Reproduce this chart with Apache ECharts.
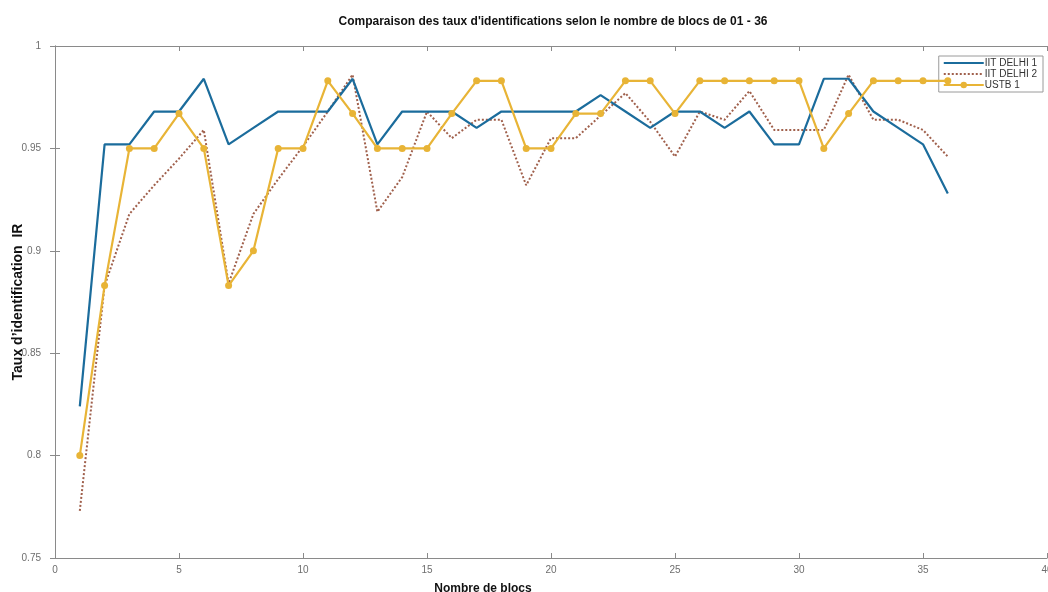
<!DOCTYPE html>
<html>
<head>
<meta charset="utf-8">
<script src="https://cdn.jsdelivr.net/npm/echarts@6/dist/echarts.min.js"></script>
<style>
  html, body { margin: 0; padding: 0; background: #fff; }
  #chart { width: 1048px; height: 592px; }
</style>
</head>
<body>
<div id="chart"></div>
<script>
// Identification rate per number of blocks (1..36)
const blocs = [1,2,3,4,5,6,7,8,9,10,11,12,13,14,15,16,17,18,19,20,21,22,23,24,25,26,27,28,29,30,31,32,33,34,35,36];

const iitDelhi1 = [0.824,0.952,0.952,0.968,0.968,0.984,0.952,0.960,0.968,0.968,0.968,0.984,
                   0.952,0.968,0.968,0.968,0.960,0.968,0.968,0.968,0.968,0.976,0.968,0.960,
                   0.968,0.968,0.960,0.968,0.952,0.952,0.984,0.984,0.968,0.960,0.952,0.928];

const iitDelhi2 = [0.773,0.883,0.918,0.932,0.945,0.959,0.884,0.918,0.935,0.951,0.968,0.986,
                   0.919,0.936,0.968,0.955,0.964,0.964,0.932,0.955,0.955,0.966,0.977,0.963,
                   0.946,0.968,0.964,0.978,0.959,0.959,0.959,0.986,0.964,0.964,0.959,0.946];

const ustb1 = [0.800,0.883,0.950,0.950,0.967,0.950,0.883,0.900,0.950,0.950,0.983,0.967,
               0.950,0.950,0.950,0.967,0.983,0.983,0.950,0.950,0.967,0.967,0.983,0.983,
               0.967,0.983,0.983,0.983,0.983,0.983,0.950,0.967,0.983,0.983,0.983,0.983];

const seriesNames = ['IIT DELHI 1', 'IIT DELHI 2', 'USTB 1'];

const pairs = (ys) => blocs.map((x, i) => [x, ys[i]]);

const axisGray = '#8a8a8a';
const labelGray = '#6e6e6e';

// line-only legend entries (no marker) for the two plain curves
const noMarker = { color: 'rgba(0,0,0,0)', borderWidth: 0 };

const chart = echarts.init(document.getElementById('chart'), null, { renderer: 'canvas' });

chart.setOption({
  animation: false,
  backgroundColor: '#ffffff',
  title: [
    {
      text: "Comparaison des taux d'identifications selon le nombre de blocs de 01 - 36",
      left: 548, top: 11, textAlign: 'center',
      textStyle: { fontFamily: 'Liberation Sans', fontWeight: 'bold', fontSize: 12, color: '#111' }
    },
    {
      text: 'Nombre de blocs',
      left: 478, top: 578, textAlign: 'center',
      textStyle: { fontFamily: 'Liberation Sans', fontWeight: 'bold', fontSize: 12, color: '#111' }
    }
  ],
  legend: {
    data: [
      { name: seriesNames[0], itemStyle: noMarker },
      { name: seriesNames[1], itemStyle: noMarker },
      { name: seriesNames[2] }
    ],
    orient: 'vertical',
    right: 5, top: 56,
    itemWidth: 40, itemHeight: 8, itemGap: 1,
    padding: [2, 6, 2, 4],
    backgroundColor: '#fff',
    borderColor: '#9a9a9a', borderWidth: 1, borderRadius: 0,
    textStyle: { fontFamily: 'Liberation Sans', fontSize: 10, color: '#333', padding: [0, 0, 0, -4] }
  },
  grid: { left: 55, right: 1, top: 46, bottom: 34, containLabel: false, outerBoundsMode: 'none' },
  xAxis: [
    {
      type: 'value', min: 0, max: 40, interval: 5,
      axisLine: { show: true, lineStyle: { color: axisGray, width: 1 } },
      axisTick: { show: true, inside: true, length: 5, lineStyle: { color: axisGray } },
      axisLabel: { color: labelGray, fontFamily: 'Liberation Sans', fontSize: 10, margin: 7 },
      splitLine: { show: false }
    },
    {
      type: 'value', min: 0, max: 40, interval: 5, position: 'top',
      axisLine: { show: true, lineStyle: { color: axisGray, width: 1 } },
      axisTick: { show: true, inside: true, length: 5, lineStyle: { color: axisGray } },
      axisLabel: { show: false },
      splitLine: { show: false }
    }
  ],
  yAxis: [
    {
      type: 'value', min: 0.75, max: 1, interval: 0.05,
      name: 'Taux d’identification  IR',
      nameLocation: 'middle', nameGap: 30, nameRotate: 90, nameMoveOverlap: false,
      nameTextStyle: {
        fontFamily: 'Liberation Sans', fontWeight: 'bold', fontSize: 14, color: '#111',
        backgroundColor: '#ffffff', padding: [0, 0, 0, 0]
      },
      axisLine: { show: true, lineStyle: { color: axisGray, width: 1 } },
      axisTick: { show: true, inside: true, length: 5, lineStyle: { color: axisGray } },
      axisLabel: { color: labelGray, fontFamily: 'Liberation Sans', fontSize: 10, margin: 14 },
      splitLine: { show: false }
    },
    {
      type: 'value', min: 0.75, max: 1, interval: 0.05, position: 'right',
      axisLine: { show: true, lineStyle: { color: axisGray, width: 1 } },
      axisTick: { show: true, inside: true, length: 5, lineStyle: { color: axisGray } },
      axisLabel: { show: false },
      splitLine: { show: false }
    }
  ],
  series: [
    {
      name: seriesNames[0], type: 'line', data: pairs(iitDelhi1),
      showSymbol: false, symbol: 'none',
      lineStyle: { color: '#1b6c9c', width: 2.2 },
      itemStyle: { color: '#1b6c9c' },
      z: 3
    },
    {
      name: seriesNames[1], type: 'line', data: pairs(iitDelhi2),
      showSymbol: false, symbol: 'none',
      lineStyle: { color: '#a0604c', width: 2, type: [2, 2] },
      itemStyle: { color: '#a0604c' },
      z: 2
    },
    {
      name: seriesNames[2], type: 'line', data: pairs(ustb1),
      symbol: 'circle', symbolSize: 7, showSymbol: true,
      lineStyle: { color: '#e8b436', width: 2.2 },
      itemStyle: { color: '#e8b436' },
      z: 4
    }
  ]
});
</script>
</body>
</html>
